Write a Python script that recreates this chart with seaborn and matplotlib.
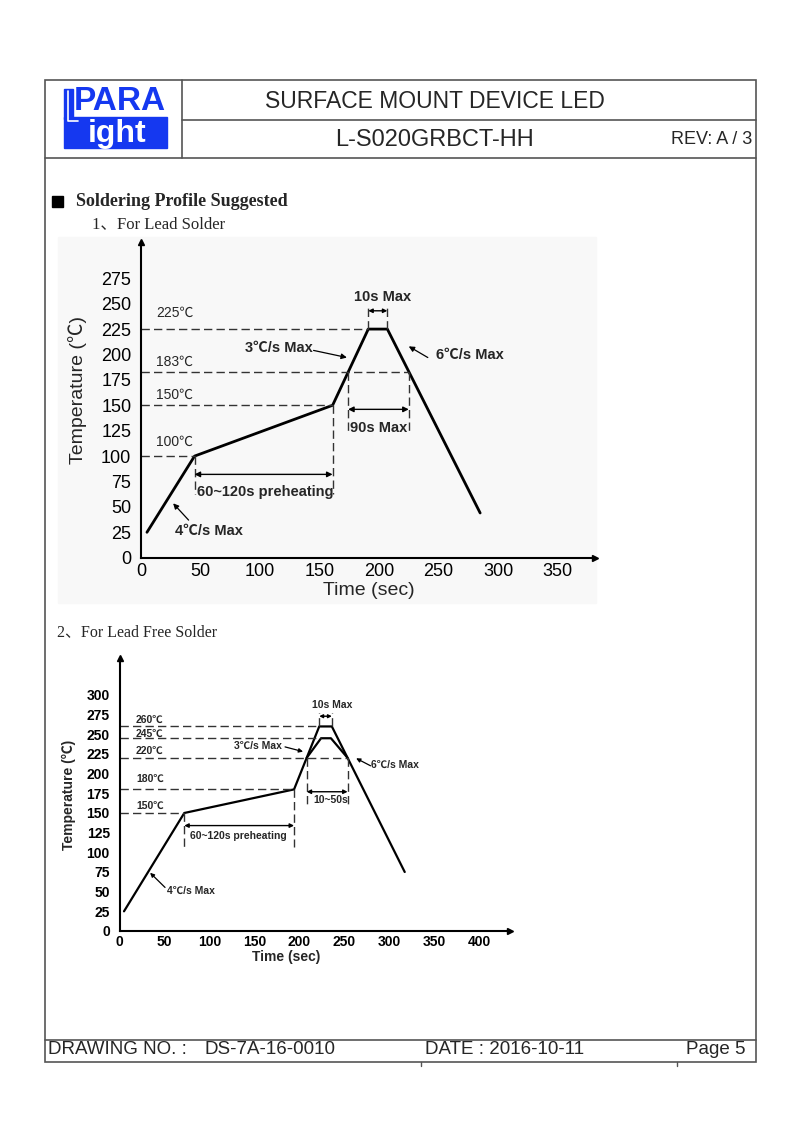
import numpy as np
import pandas as pd
import seaborn as sns
import matplotlib.pyplot as plt
from matplotlib.patches import Rectangle

# ---- lead solder profile (time in sec, temperature in degC) ----
lead_time = [5, 45, 161, 191, 207, 285]
lead_temp = [25, 100, 150, 225, 225, 44]
lead_levels = [225, 183, 150, 100]
lead_level_ends = [191, 225, 161, 45]
lead_level_labels = ["225℃", "183℃", "150℃", "100℃"]
lead_label_y = [241, 193, 160, 114]
lead_xticks = [0, 50, 100, 150, 200, 250, 300, 350]
lead_yticks = [0, 25, 50, 75, 100, 125, 150, 175, 200, 225, 250, 275]

# ---- lead free profile ----
free_time = [5, 72, 194, 222, 236, 317]
free_temp = [25, 150, 180, 260, 260, 75]
free_inner_time = [208, 224, 235, 253.5]
free_inner_temp = [220, 245, 245, 220]
free_levels = [260, 245, 220, 180, 150]
free_level_ends = [222, 224, 253.5, 194, 72]
free_level_labels = ["260℃", "245℃", "220℃", "180℃", "150℃"]
free_label_y = [269, 251, 229, 193, 159]
free_xticks = [0, 50, 100, 150, 200, 250, 300, 350, 400]
free_yticks = [0, 25, 50, 75, 100, 125, 150, 175, 200, 225, 250, 275, 300]

sns.set_style("white")
plt.rcParams['font.family'] = ['Liberation Sans', 'Noto Sans CJK SC']
SERIF = ['Liberation Serif', 'Noto Sans CJK SC']
BLUE = '#1538f0'
FRAME = '#555555'
DASH = '#333333'

W, H = 794, 1123
fig = plt.figure(figsize=(W / 100, H / 100), dpi=100)
page = fig.add_axes([0, 0, 1, 1])
page.set_xlim(0, W)
page.set_ylim(H, 0)
page.axis('off')


def px_axes(x0, y0, x1, y1):
    # pixel box with top-left origin -> figure fraction
    return fig.add_axes([x0 / W, 1 - y1 / H, (x1 - x0) / W, (y1 - y0) / H])


# ---- page frame, header, footer ----
page.add_patch(Rectangle((45, 80), 711, 982, fill=False, ec=FRAME, lw=1.2))
page.plot([182, 182], [80, 158], color=FRAME, lw=1.2)
page.plot([182, 756], [120, 120], color=FRAME, lw=1.2)
page.plot([45, 756], [158, 158], color=FRAME, lw=1.2)
page.plot([45, 756], [1040, 1040], color=FRAME, lw=1.2)
for fx in (421, 677):
    page.plot([fx, fx], [1062, 1066], color=FRAME, lw=1)

# logo
page.add_patch(Rectangle((64, 117), 103, 31, color=BLUE))
page.add_patch(Rectangle((64, 89), 9, 30, color=BLUE))
page.plot([67.5, 67.5, 78], [91, 120.5, 120.5], color='white', lw=1.2)
page.text(120, 102, "PARA", ha='center', va='center', fontsize=24,
          fontweight='bold', color=BLUE)
page.text(117, 134, "ight", ha='center', va='center', fontsize=23,
          fontweight='bold', color='white')

page.text(434.5, 101, "SURFACE MOUNT DEVICE LED", ha='center', va='center', fontsize=16.5)
page.text(434.5, 140, "L-S020GRBCT-HH", ha='center', va='center', fontsize=17)
page.text(752, 140, "REV: A / 3", ha='right', va='center', fontsize=13)

page.add_patch(Rectangle((52, 196), 11, 11, color='black'))
page.text(76, 201, "Soldering Profile Suggested", ha='left', va='center',
          fontsize=13, fontweight='bold', family=SERIF)
page.text(92, 224, "1、For Lead Solder", ha='left', va='center', fontsize=12, family=SERIF)
page.text(57, 632, "2、For Lead Free Solder", ha='left', va='center', fontsize=11.5, family=SERIF)

page.text(48, 1050, "DRAWING NO. :", ha='left', va='center', fontsize=13.5)
page.text(205, 1050, "DS-7A-16-0010", ha='left', va='center', fontsize=13.5)
page.text(425, 1050, "DATE : 2016-10-11", ha='left', va='center', fontsize=13.5)
page.text(745, 1050, "Page 5", ha='right', va='center', fontsize=13.5)

# light background of the first chart image
page.add_patch(Rectangle((58, 237), 538, 366, color='#f8f8f8', zorder=0))


def style_axes(ax, xticks, yticks, size, weight, ypad, xpad):
    sns.despine(ax=ax)
    for s in ('left', 'bottom'):
        ax.spines[s].set_linewidth(1.5)
        ax.spines[s].set_color('black')
    ax.set_xticks(xticks)
    ax.set_yticks(yticks)
    ax.tick_params(direction='in', length=5, width=1.2, labelsize=size, colors='black')
    ax.tick_params(axis='y', pad=ypad)
    ax.tick_params(axis='x', pad=xpad)
    for lab in ax.get_xticklabels() + ax.get_yticklabels():
        lab.set_fontweight(weight)
    ax.plot(1, 0, '>k', ms=5, transform=ax.transAxes, clip_on=False)
    ax.plot(0, 1, '^k', ms=5, transform=ax.transAxes, clip_on=False)
    ax.patch.set_alpha(0)


def span(ax, x0, x1, y, ms=8):
    ax.annotate('', xy=(x1, y), xytext=(x0, y),
                arrowprops=dict(arrowstyle='<|-|>', color='black', lw=1.0,
                                mutation_scale=ms, shrinkA=0, shrinkB=0))


def pointer(ax, tail, head, ms=8):
    ax.annotate('', xy=head, xytext=tail,
                arrowprops=dict(arrowstyle='-|>', color='black', lw=0.9,
                                mutation_scale=ms, shrinkA=0, shrinkB=0))


dash_kw = dict(color=DASH, lw=1.0, linestyles=(0, (6, 3)))

# ================= chart 1: lead solder =================
ax1 = px_axes(141, 242, 595, 557.7)
df_lead = pd.DataFrame({"time": lead_time, "temp": lead_temp})
sns.lineplot(data=df_lead, x="time", y="temp", sort=False, estimator=None,
             color='black', lw=2.0, ax=ax1)
ax1.set_xlim(0, 381.5)
ax1.set_ylim(0, 310.7)
style_axes(ax1, lead_xticks, lead_yticks, 13, 'normal', 7, 4)
ax1.set_xlabel("Time (sec)", fontsize=14, va='center')
ax1.xaxis.set_label_coords(0.502, -0.105)
ax1.set_ylabel("Temperature (℃)", fontsize=14, va='center')
ax1.yaxis.set_label_coords(-0.14, 0.53)

ax1.hlines(lead_levels, 0, lead_level_ends, **dash_kw)
for lab, ly in zip(lead_level_labels, lead_label_y):
    ax1.text(13, ly, lab, fontsize=10, ha='left', va='center')
ax1.vlines([45, 161], [100, 150], 63, **dash_kw)
ax1.vlines([174, 225], 183, 122, **dash_kw)
ax1.vlines([191, 207], 225, 247, **dash_kw)

span(ax1, 45, 161, 82)
ax1.text(47, 65, "60~120s preheating", fontsize=10.5, fontweight='bold', ha='left', va='center')
span(ax1, 174, 225, 146)
ax1.text(176, 128, "90s Max", fontsize=10.5, fontweight='bold', ha='left', va='center')
span(ax1, 191, 207, 243, ms=6)
ax1.text(203, 257, "10s Max", fontsize=10.5, fontweight='bold', ha='center', va='center')

ax1.text(144, 206, "3℃/s Max", fontsize=10.5, fontweight='bold', ha='right', va='center')
pointer(ax1, (145, 204), (173, 197))
ax1.text(248, 199, "6℃/s Max", fontsize=10.5, fontweight='bold', ha='left', va='center')
pointer(ax1, (241, 197), (225, 208))
ax1.text(28.6, 26, "4℃/s Max", fontsize=10.5, fontweight='bold', ha='left', va='center')
pointer(ax1, (40, 37), (27, 53.5))

# ================= chart 2: lead free solder =================
ax2 = px_axes(119.5, 658, 510, 931)
df_free = pd.DataFrame({"time": free_time, "temp": free_temp})
df_inner = pd.DataFrame({"time": free_inner_time, "temp": free_inner_temp})
sns.lineplot(data=df_free, x="time", y="temp", sort=False, estimator=None,
             color='black', lw=1.6, ax=ax2)
sns.lineplot(data=df_inner, x="time", y="temp", sort=False, estimator=None,
             color='black', lw=1.6, ax=ax2)
ax2.set_xlim(0, 434)
ax2.set_ylim(0, 347)
style_axes(ax2, free_xticks, free_yticks, 10, 'bold', 7, 3)
ax2.set_xlabel("Time (sec)", fontsize=10, fontweight='bold', va='center')
ax2.xaxis.set_label_coords(0.426, -0.095)
ax2.set_ylabel("Temperature (℃)", fontsize=10, fontweight='bold', va='center')
ax2.yaxis.set_label_coords(-0.13, 0.498)

ax2.hlines(free_levels, 0, free_level_ends, **dash_kw)
for lab, ly in zip(free_level_labels, free_label_y):
    ax2.text(18.4, ly, lab, fontsize=7.5, fontweight='bold', ha='left', va='center')
ax2.vlines([72, 194], [150, 180], 107, **dash_kw)
ax2.vlines([208, 253.5], 220, 158, **dash_kw)
ax2.vlines([222, 236], 260, 277, **dash_kw)

span(ax2, 72, 194, 134, ms=6)
ax2.text(78, 121, "60~120s preheating", fontsize=7.5, fontweight='bold', ha='left', va='center')
span(ax2, 208, 253.5, 177, ms=6)
ax2.text(215, 166, "10~50s", fontsize=7.5, fontweight='bold', ha='left', va='center')
span(ax2, 222, 236, 273, ms=5)
ax2.text(236, 287, "10s Max", fontsize=7.5, fontweight='bold', ha='center', va='center')

ax2.text(180, 235, "3℃/s Max", fontsize=7.5, fontweight='bold', ha='right', va='center')
pointer(ax2, (184, 234), (204, 228), ms=6)
ax2.text(280, 211, "6℃/s Max", fontsize=7.5, fontweight='bold', ha='left', va='center')
pointer(ax2, (279, 210), (263, 219.5), ms=6)
ax2.text(52.4, 51, "4℃/s Max", fontsize=7.5, fontweight='bold', ha='left', va='center')
pointer(ax2, (50.6, 55.4), (34, 74), ms=6)

fig.savefig("out.png", dpi=100)
